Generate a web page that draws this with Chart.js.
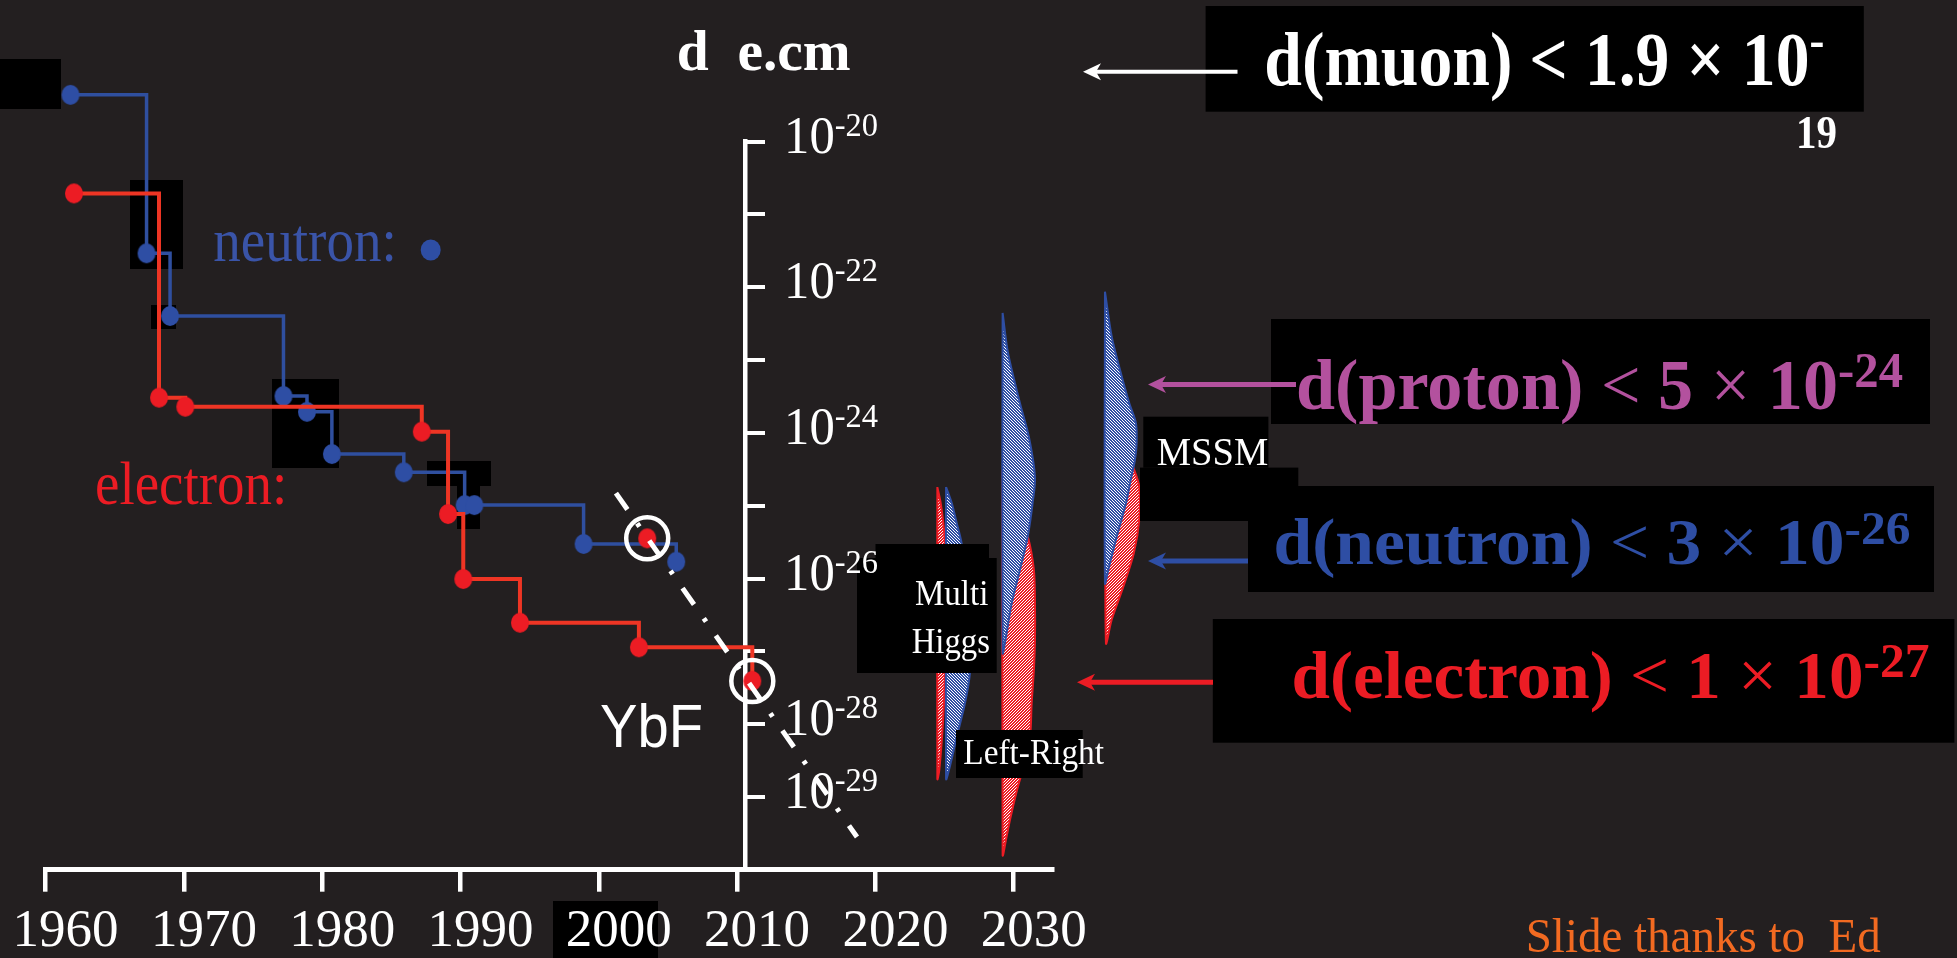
<!DOCTYPE html>
<html>
<head>
<meta charset="utf-8">
<title>EDM limits</title>
<script src="https://cdn.jsdelivr.net/npm/chart.js@4.4.1/dist/chart.umd.min.js"></script>
<style>
  html, body { margin: 0; padding: 0; background: #231f20; overflow: hidden; }
  canvas { display: block; }
</style>
</head>
<body>
<canvas id="edm" width="1957" height="958"></canvas>
<script>
// ---- axis ticks -------------------------------------------------------
const xTickYears = [1960, 1970, 1980, 1990, 2000, 2010, 2020, 2030];
const yTickExps = [-20, -21, -22, -23, -24, -25, -26, -27, -28, -29];
const yLabelExps = [-20, -22, -24, -26, -28, -29];

// ---- measured limits (e.cm) -------------------------------------------
const neutronYears = [1961.8, 1967.3, 1969.0, 1977.2, 1978.9, 1980.7, 1985.9, 1990.3, 1991.0, 1998.9, 2005.6];
const neutronEdm   = [4.4e-20, 2.93e-22, 4.04e-23, 3.21e-24, 1.95e-24, 5.13e-25, 2.88e-25, 1.02e-25, 1.02e-25, 2.98e-26, 1.70e-26];

const electronYears = [1962.05, 1968.2, 1970.1, 1987.2, 1989.1, 1990.2, 1994.3, 2002.9, 2011.1];
const electronEdm   = [1.95e-21, 3.05e-24, 2.29e-24, 1.04e-24, 7.69e-26, 9.84e-27, 2.47e-27, 1.135e-27, 3.91e-28];

// YbF molecule results (ringed)
const ybfYears = [2003.5, 2011.1];
const ybfEdm   = [3.56e-26, 3.91e-28];

// projected YbF sensitivity
const trendYears = [2001.24, 2018.67];
const trendEdm   = [1.49e-25, 2.81e-30];

// ---- theory predictions: right-hand outline of each hatched band ------
const higgsNeutronYears = [2025.11, 2025.52, 2025.88, 2026.24, 2026.70, 2026.91, 2026.84, 2026.48, 2025.88, 2025.32, 2025.11];
const higgsNeutronEdm   = [1.80e-25, 1.09e-25, 5.78e-26, 2.98e-26, 5.07e-27, 1.43e-27, 5.04e-28, 1.95e-28, 6.65e-29, 2.34e-29, 1.76e-29];
const higgsElectronYears = [2024.48, 2024.72, 2024.91, 2025.03, 2025.05, 2025.03, 2024.96, 2024.82, 2024.62, 2024.48];
const higgsElectronEdm   = [1.80e-25, 1.09e-25, 5.78e-26, 2.98e-26, 5.07e-27, 5.04e-28, 1.95e-28, 6.65e-29, 2.34e-29, 1.76e-29];

const lrNeutronYears = [2029.20, 2029.59, 2030.45, 2031.10, 2031.54, 2031.37, 2031.01, 2030.45, 2029.86, 2029.44, 2029.20];
const lrNeutronEdm   = [4.44e-23, 1.25e-23, 2.58e-24, 8.79e-25, 2.48e-25, 1.09e-25, 3.72e-26, 1.31e-26, 4.60e-27, 1.57e-27, 9.46e-28];
const lrElectronYears = [2029.20, 2030.09, 2031.03, 2031.46, 2031.54, 2031.54, 2031.46, 2031.30, 2031.18, 2030.74, 2030.24, 2029.73, 2029.44, 2029.20];
const lrElectronEdm   = [3.09e-25, 1.20e-25, 3.72e-26, 1.31e-26, 4.60e-27, 1.43e-27, 5.53e-28, 1.95e-28, 6.65e-29, 2.74e-29, 1.24e-29, 4.82e-30, 2.56e-30, 1.59e-30];

const mssmNeutronYears = [2036.60, 2037.09, 2037.69, 2038.36, 2038.84, 2038.89, 2038.77, 2038.46, 2038.12, 2037.45, 2036.84, 2036.60];
const mssmNeutronEdm   = [8.71e-23, 2.09e-23, 7.33e-24, 2.55e-24, 1.36e-24, 7.19e-25, 4.25e-25, 2.25e-25, 1.08e-25, 3.75e-26, 1.31e-26, 8.59e-27];
const mssmElectronYears = [2036.67, 2038.04, 2038.69, 2039.08, 2039.08, 2038.69, 2037.92, 2037.08, 2036.67];
const mssmElectronEdm   = [1.10e-24, 5.82e-25, 3.19e-25, 1.81e-25, 6.37e-26, 2.24e-26, 7.64e-27, 2.69e-27, 1.30e-27];

// ---- styling ----------------------------------------------------------
const BG = '#231f20';
const BLUE = '#2e4ea4';
const BLUE_LINE = '#2f4f9f';
const BLUE_TEXT = '#3a54a8';
const RED = '#ec1c24';
const RED_LINE = '#ee3524';
const MAGENTA = '#b3519e';
const ORANGE = '#f26a21';
const SERIF = '"Liberation Serif", "Times New Roman", serif';
const SANS = '"Liberation Sans", "DejaVu Sans", sans-serif';
const Y_AXIS_YEAR = 2010.58;

const canvas = document.getElementById('edm');
const ctx2d = canvas.getContext('2d');

function ellipseDot(color, rx, ry) {
  const c = document.createElement('canvas');
  c.width = Math.ceil(rx * 2 + 2); c.height = Math.ceil(ry * 2 + 2);
  const g = c.getContext('2d');
  g.fillStyle = color;
  g.beginPath(); g.ellipse(c.width / 2, c.height / 2, rx, ry, 0, 0, Math.PI * 2); g.fill();
  return c;
}

// crisp pixel hatching: coloured ground with thin white diagonal stripes
function hatch(color, forward) {
  const n = 3;
  const c = document.createElement('canvas');
  c.width = n; c.height = n;
  const g = c.getContext('2d');
  g.fillStyle = color; g.fillRect(0, 0, n, n);
  g.fillStyle = '#ffffff';
  for (let j = 0; j < n; j++) {
    for (let i = 0; i < n; i++) {
      const k = forward ? (i + j) % n : (i - j + n) % n;
      if (k === 0) g.fillRect(i, j, 1, 1);
    }
  }
  return ctx2d.createPattern(c, 'repeat');
}

const pts = (xs, ys) => xs.map((x, i) => ({ x, y: ys[i] }));

function band(label, years, edm, color, pattern, order) {
  const data = pts(years, edm);
  data.push({ ...data[0] });   // run back up the baseline
  return {
    label, data, order,
    borderColor: color, borderWidth: 2,
    backgroundColor: pattern, fill: 'shape',
    pointRadius: 0, tension: 0.3, capBezierPoints: false, clip: false
  };
}

const blueDot = ellipseDot(BLUE, 9, 10);
const redDot = ellipseDot(RED, 9, 10);
const blueHatch = hatch(BLUE, false);
const redHatch = hatch(RED, true);

// ---- text helper: runs of text squeezed to a given width --------------
function drawRuns(ctx, x, y, parts, width) {
  let total = 0;
  for (const p of parts) { ctx.font = p.font; p.w = ctx.measureText(p.text).width; total += p.w; }
  const sx = width ? width / total : 1;
  ctx.save();
  ctx.translate(x, y); ctx.scale(sx, 1);
  ctx.textAlign = 'left'; ctx.textBaseline = 'alphabetic';
  let cx = 0;
  for (const p of parts) {
    ctx.font = p.font; ctx.fillStyle = p.color;
    ctx.fillText(p.text, cx, p.dy || 0);
    cx += p.w;
  }
  ctx.restore();
}

function arrow(ctx, tail, tip, y, color, lw) {
  ctx.save();
  ctx.strokeStyle = color; ctx.fillStyle = color; ctx.lineWidth = lw;
  ctx.beginPath(); ctx.moveTo(tail, y); ctx.lineTo(tip + 12, y); ctx.stroke();
  ctx.beginPath();
  ctx.moveTo(tip, y); ctx.lineTo(tip + 18, y - 8.5); ctx.lineTo(tip + 13, y); ctx.lineTo(tip + 18, y + 8.5);
  ctx.closePath(); ctx.fill();
  ctx.restore();
}

function box(ctx, x, y, w, h) { ctx.fillStyle = '#000'; ctx.fillRect(x, y, w, h); }

// ---- slide decoration drawn around the chart --------------------------
const slidePlugin = {
  id: 'slide',
  beforeDraw(chart) {
    const ctx = chart.ctx;
    ctx.save();
    ctx.fillStyle = BG; ctx.fillRect(0, 0, chart.width, chart.height);
    box(ctx, 0, 59, 61, 50);
    box(ctx, 130, 180, 53, 89);
    box(ctx, 151, 305, 25, 24);
    box(ctx, 272, 379, 67, 89);
    box(ctx, 427, 461, 64, 25);
    box(ctx, 457, 486, 23, 43);
    box(ctx, 553, 901, 105, 57);
    ctx.restore();
  },
  beforeDatasetsDraw(chart) {
    // let the bands and early points spill past the axis frame
    chart.$frame = chart.chartArea;
    chart.chartArea = { left: 0, top: 0, right: chart.width, bottom: chart.height, width: chart.width, height: chart.height };
  },
  afterDatasetsDraw(chart) {
    if (chart.$frame) { chart.chartArea = chart.$frame; chart.$frame = null; }
    const ctx = chart.ctx;
    const xs = chart.scales.x, ys = chart.scales.y;
    ctx.save();
    // label panels
    box(ctx, 875.5, 544, 113.5, 14);
    box(ctx, 857, 558, 139.7, 115);
    box(ctx, 956, 730, 126.7, 48);
    box(ctx, 1143.3, 416.7, 125.1, 51);
    box(ctx, 1140, 467.6, 158.3, 53.4);
    box(ctx, 1205.6, 6, 658.2, 105.7);
    box(ctx, 1271, 319, 659, 105);
    box(ctx, 1248, 486, 686, 106);
    box(ctx, 1212.8, 619, 741.6, 123.7);

    // decade labels beside the vertical axis
    const ax = xs.getPixelForValue(Y_AXIS_YEAR);
    for (const e of yLabelExps) {
      const py = ys.getPixelForValue(Math.pow(10, e));
      drawRuns(ctx, ax + 39, py + 11, [
        { text: '10', font: `53px ${SERIF}`, color: '#fff' },
        { text: String(e), font: `34px ${SERIF}`, color: '#fff', dy: -17 }
      ], 94);
    }

    arrow(ctx, 1237.5, 1083, 71.7, '#ffffff', 4);
    arrow(ctx, 1296, 1148, 384.5, MAGENTA, 5);
    arrow(ctx, 1248, 1148, 561, BLUE, 5);
    arrow(ctx, 1213, 1077, 682.2, RED, 5);

    const B = (s) => `bold ${s}px ${SERIF}`;
    const R = (s) => `${s}px ${SERIF}`;

    drawRuns(ctx, 676.7, 70, [{ text: 'd  e.cm', font: B(56), color: '#fff' }], 174);

    drawRuns(ctx, 1264.3, 85, [
      { text: 'd(muon) < 1.9 \u00d7 10', font: B(76), color: '#fff' },
      { text: '-', font: B(50), color: '#fff', dy: -28 }
    ], 560);
    drawRuns(ctx, 1796, 148.3, [{ text: '19', font: B(47), color: '#fff' }], 41);

    drawRuns(ctx, 1296, 409, [
      { text: 'd(proton)', font: B(72), color: MAGENTA },
      { text: ' < ', font: R(72), color: MAGENTA },
      { text: '5', font: B(72), color: MAGENTA },
      { text: ' \u00d7 ', font: R(72), color: MAGENTA },
      { text: '10', font: B(72), color: MAGENTA },
      { text: '-24', font: B(50), color: MAGENTA, dy: -22 }
    ], 607);

    drawRuns(ctx, 1273.5, 564.4, [
      { text: 'd(neutron)', font: B(66), color: BLUE },
      { text: ' < ', font: R(66), color: BLUE },
      { text: '3', font: B(66), color: BLUE },
      { text: ' \u00d7 ', font: R(66), color: BLUE },
      { text: '10', font: B(66), color: BLUE },
      { text: '-26', font: B(47), color: BLUE, dy: -20 }
    ], 637);

    drawRuns(ctx, 1291.5, 698.2, [
      { text: 'd(electron)', font: B(67), color: RED },
      { text: ' < ', font: R(67), color: RED },
      { text: '1', font: B(67), color: RED },
      { text: ' \u00d7 ', font: R(67), color: RED },
      { text: '10', font: B(67), color: RED },
      { text: '-27', font: B(48), color: RED, dy: -21 }
    ], 638);

    drawRuns(ctx, 915, 605.2, [{ text: 'Multi', font: R(35), color: '#fff' }], 73.3);
    drawRuns(ctx, 911.7, 653, [{ text: 'Higgs', font: R(35), color: '#fff' }], 78.3);
    drawRuns(ctx, 963.3, 764, [{ text: 'Left-Right', font: R(36), color: '#fff' }], 140.7);
    drawRuns(ctx, 1156.7, 465.4, [{ text: 'MSSM', font: R(40), color: '#fff' }], 111.6);

    drawRuns(ctx, 213.3, 260.7, [{ text: 'neutron:', font: R(62), color: BLUE_TEXT }], 183.4);
    ctx.fillStyle = BLUE;
    ctx.beginPath(); ctx.ellipse(430.7, 250, 10, 10.5, 0, 0, Math.PI * 2); ctx.fill();
    drawRuns(ctx, 95, 504, [{ text: 'electron:', font: R(62), color: RED }], 192.3);

    drawRuns(ctx, 600, 746.7, [{ text: 'YbF', font: `62px ${SANS}`, color: '#fff' }], 103);

    drawRuns(ctx, 1525.7, 951.6, [{ text: 'Slide thanks to  Ed', font: R(48), color: ORANGE }], 355);
    ctx.restore();
  }
};

// ---- chart ------------------------------------------------------------
new Chart(canvas, {
  type: 'line',
  data: {
    datasets: [
      {
        label: 'YbF projection', data: pts(trendYears, trendEdm), order: 0,
        borderColor: '#ffffff', borderWidth: 5, borderDash: [20, 17, 4, 17], borderCapStyle: 'butt',
        pointRadius: 0, fill: false, clip: false
      },
      {
        label: 'YbF', data: pts(ybfYears, ybfEdm), order: 1, showLine: false,
        pointStyle: 'circle', pointRadius: 21, pointBorderWidth: 4.5,
        pointBorderColor: '#ffffff', pointBackgroundColor: 'rgba(0,0,0,0)', clip: false
      },
      {
        label: 'YbF 2002', data: pts(ybfYears.slice(0, 1), ybfEdm.slice(0, 1)), order: 2, showLine: false,
        pointStyle: redDot, pointRadius: 10, clip: false
      },
      {
        label: 'electron', data: pts(electronYears, electronEdm), order: 3,
        borderColor: RED_LINE, borderWidth: 4, stepped: 'before', fill: false,
        pointStyle: redDot, pointRadius: 10, clip: false
      },
      {
        label: 'neutron', data: pts(neutronYears, neutronEdm), order: 4,
        borderColor: BLUE_LINE, borderWidth: 3.5, stepped: 'before', fill: false,
        pointStyle: blueDot, pointRadius: 10, clip: false
      },
      band('MSSM neutron', mssmNeutronYears, mssmNeutronEdm, BLUE, blueHatch, 5),
      band('MSSM electron', mssmElectronYears, mssmElectronEdm, RED, redHatch, 6),
      band('Multi Higgs neutron', higgsNeutronYears, higgsNeutronEdm, BLUE, blueHatch, 7),
      band('Multi Higgs electron', higgsElectronYears, higgsElectronEdm, RED, redHatch, 8),
      band('Left-Right neutron', lrNeutronYears, lrNeutronEdm, BLUE, blueHatch, 9),
      band('Left-Right electron', lrElectronYears, lrElectronEdm, RED, redHatch, 10)
    ]
  },
  options: {
    responsive: false,
    devicePixelRatio: 1,
    animation: false,
    events: [],
    layout: { autoPadding: false, padding: { left: 45.6, right: 905, top: 141.7, bottom: 0 } },
    plugins: { legend: { display: false }, tooltip: { enabled: false } },
    scales: {
      x: {
        type: 'linear', position: 'bottom', min: 1960, max: 2032.77,
        afterBuildTicks: (s) => { s.ticks = xTickYears.map((v) => ({ value: v })); },
        afterFit: (s) => { s.height = 958 - 869.7; s.paddingLeft = 0; s.paddingRight = 0; },
        grid: { drawOnChartArea: false, drawTicks: true, tickLength: 22, color: '#ffffff', lineWidth: 4.5 },
        border: { display: true, color: '#ffffff', width: 5 },
        ticks: {
          color: '#ffffff', font: { family: SERIF, size: 53 },
          labelOffset: 20, padding: 9, autoSkip: false, maxRotation: 0, minRotation: 0,
          callback: (v) => String(v)
        }
      },
      y: {
        type: 'logarithmic', position: { x: Y_AXIS_YEAR }, min: 1e-30, max: 1e-20,
        afterBuildTicks: (s) => { s.ticks = yTickExps.map((e) => ({ value: Math.pow(10, e) })); },
        afterFit: (s) => { s.paddingTop = 0; s.paddingBottom = 0; },
        grid: { drawOnChartArea: false, drawTicks: true, tickLength: -22, color: '#ffffff', lineWidth: 4 },
        border: { display: true, color: '#ffffff', width: 4.5 },
        ticks: { display: false }
      }
    }
  },
  plugins: [slidePlugin]
});
</script>
</body>
</html>
